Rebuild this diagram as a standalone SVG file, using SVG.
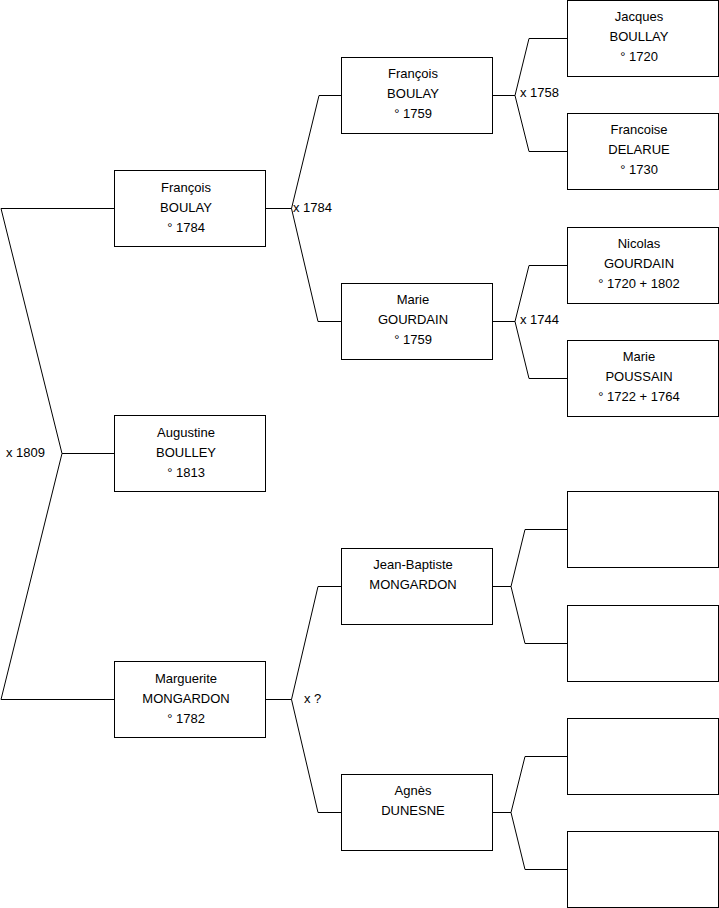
<svg xmlns="http://www.w3.org/2000/svg" width="719" height="908" viewBox="0 0 719 908">
<style>
.box{fill:#fff;stroke:#000;stroke-width:1}
.ln{fill:none;stroke:#000;stroke-width:1}
text{font-family:"Liberation Sans",Arial,sans-serif;font-size:13px;fill:#000}
.c{text-anchor:middle}
</style>
<rect width="719" height="908" fill="#fff"/>
<g id="connectors">
<polyline class="ln" points="114,208.5 1,208.5 62,453.5 1,699.5 114,699.5"/>
<line class="ln" x1="62" y1="453.5" x2="114" y2="453.5"/>
<polyline class="ln" points="341,95.5 319,95.5 291.5,208.5 318,321.5 341,321.5"/>
<line class="ln" x1="265" y1="208.5" x2="291.5" y2="208.5"/>
<polyline class="ln" points="341,586.5 318,586.5 291.5,699.5 318,812.5 341,812.5"/>
<line class="ln" x1="265" y1="699.5" x2="291.5" y2="699.5"/>
<polyline class="ln" points="567,38.5 529,38.5 515,95.5 529,151.5 567,151.5"/>
<line class="ln" x1="492" y1="95.5" x2="515" y2="95.5"/>
<polyline class="ln" points="567,265.5 529,265.5 515,321.5 529,378.5 567,378.5"/>
<line class="ln" x1="492" y1="321.5" x2="515" y2="321.5"/>
<polyline class="ln" points="567,529.5 525,529.5 511,586.5 525,643.5 567,643.5"/>
<line class="ln" x1="492" y1="586.5" x2="511" y2="586.5"/>
<polyline class="ln" points="567,756.5 525,756.5 511,812.5 525,869.5 567,869.5"/>
<line class="ln" x1="492" y1="812.5" x2="511" y2="812.5"/>
<text x="6" y="457">x 1809</text>
<text x="293" y="212">x 1784</text>
<text x="304" y="703">x ?</text>
<text x="520" y="97">x 1758</text>
<text x="520" y="324">x 1744</text>
</g>
<g id="augustine">
<rect class="box" x="114.5" y="415.5" width="151" height="76"/>
<text class="c" x="186" y="437">Augustine</text>
<text class="c" x="186" y="457">BOULLEY</text>
<text class="c" x="186" y="477">° 1813</text>
</g>
<g id="francois1784">
<rect class="box" x="114.5" y="170.5" width="151" height="76"/>
<text class="c" x="186" y="192">François</text>
<text class="c" x="186" y="212">BOULAY</text>
<text class="c" x="186" y="232">° 1784</text>
</g>
<g id="marguerite">
<rect class="box" x="114.5" y="661.5" width="151" height="76"/>
<text class="c" x="186" y="683">Marguerite</text>
<text class="c" x="186" y="703">MONGARDON</text>
<text class="c" x="186" y="723">° 1782</text>
</g>
<g id="francois1759">
<rect class="box" x="341.5" y="57.5" width="151" height="76"/>
<text class="c" x="413" y="78">François</text>
<text class="c" x="413" y="98">BOULAY</text>
<text class="c" x="413" y="118">° 1759</text>
</g>
<g id="marie1759">
<rect class="box" x="341.5" y="283.5" width="151" height="76"/>
<text class="c" x="413" y="304">Marie</text>
<text class="c" x="413" y="324">GOURDAIN</text>
<text class="c" x="413" y="344">° 1759</text>
</g>
<g id="jeanbaptiste">
<rect class="box" x="341.5" y="548.5" width="151" height="76"/>
<text class="c" x="413" y="569">Jean-Baptiste</text>
<text class="c" x="413" y="589">MONGARDON</text>
</g>
<g id="agnes">
<rect class="box" x="341.5" y="774.5" width="151" height="76"/>
<text class="c" x="413" y="795">Agnès</text>
<text class="c" x="413" y="815">DUNESNE</text>
</g>
<g id="jacques">
<rect class="box" x="567.5" y="0.5" width="151" height="76"/>
<text class="c" x="639" y="21">Jacques</text>
<text class="c" x="639" y="41">BOULLAY</text>
<text class="c" x="639" y="61">° 1720</text>
</g>
<g id="francoise">
<rect class="box" x="567.5" y="113.5" width="151" height="76"/>
<text class="c" x="639" y="134">Francoise</text>
<text class="c" x="639" y="154">DELARUE</text>
<text class="c" x="639" y="174">° 1730</text>
</g>
<g id="nicolas">
<rect class="box" x="567.5" y="227.5" width="151" height="76"/>
<text class="c" x="639" y="248">Nicolas</text>
<text class="c" x="639" y="268">GOURDAIN</text>
<text class="c" x="639" y="288">° 1720 + 1802</text>
</g>
<g id="mariepoussain">
<rect class="box" x="567.5" y="340.5" width="151" height="76"/>
<text class="c" x="639" y="361">Marie</text>
<text class="c" x="639" y="381">POUSSAIN</text>
<text class="c" x="639" y="401">° 1722 + 1764</text>
</g>
<g id="empty1"><rect class="box" x="567.5" y="491.5" width="151" height="76"/></g>
<g id="empty2"><rect class="box" x="567.5" y="605.5" width="151" height="76"/></g>
<g id="empty3"><rect class="box" x="567.5" y="718.5" width="151" height="76"/></g>
<g id="empty4"><rect class="box" x="567.5" y="831.5" width="151" height="76"/></g>
</svg>
